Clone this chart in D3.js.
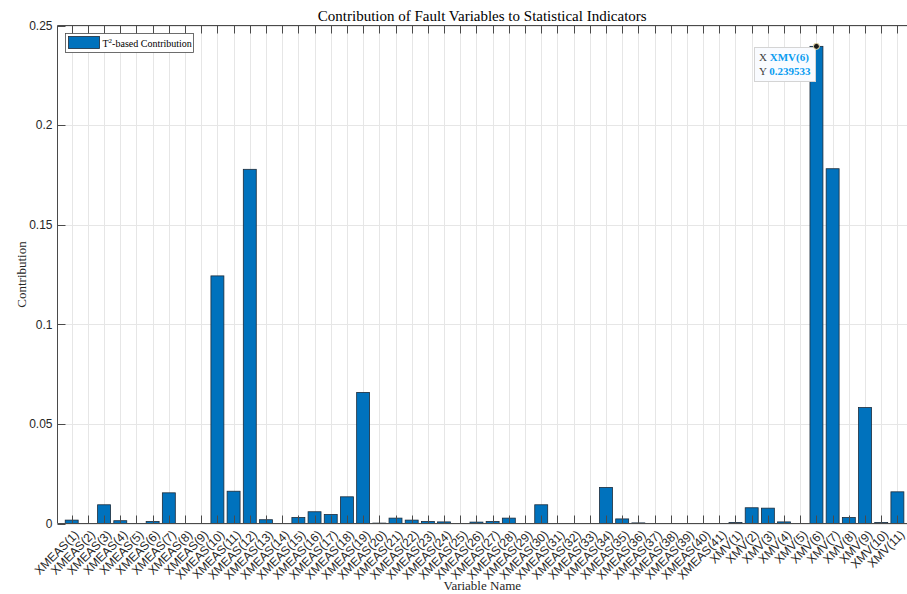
<!DOCTYPE html>
<html>
<head>
<meta charset="utf-8">
<script src="https://cdn.jsdelivr.net/npm/d3@7/dist/d3.min.js"></script>
<style>
  html, body { margin: 0; padding: 0; background: #fff; }
  svg { display: block; }
</style>
</head>
<body>
<svg id="chart" width="907" height="594"></svg>
<script>
// Variable names: 41 measured variables followed by 11 manipulated variables
const measNames = d3.range(1, 42).map(i => `XMEAS(${i})`);
const mvNames = d3.range(1, 12).map(i => `XMV(${i})`);
const categories = measNames.concat(mvNames);

// T²-based contribution of each variable
const measValues = [
  0.0017, 0, 0.0094, 0.0014, 0, 0.0010, 0.0154, 0, 0, 0.1243,
  0.0162, 0.1778, 0.0019, 0, 0.0030, 0.0059, 0.0045, 0.0134, 0.0658, 0.0002,
  0.0027, 0.0017, 0.0010, 0.0008, 0, 0.0007, 0.0010, 0.0027, 0, 0.0094,
  0, 0, 0, 0.0181, 0.0023, 0.0003, 0, 0, 0, 0,
  0
];
const mvValues = [0.0005, 0.0079, 0.0077, 0.0008, 0, 0.239533, 0.1781, 0.0030, 0.0582, 0.0005, 0.0159];
const values = measValues.concat(mvValues);

const yTicks = [0, 0.05, 0.1, 0.15, 0.2, 0.25];
const yTickLabels = ["0", "0.05", "0.1", "0.15", "0.2", "0.25"];

const titleText = "Contribution of Fault Variables to Statistical Indicators";
const xLabelText = "Variable Name";
const yLabelText = "Contribution";
const tipIndex = 46; // XMV(6)

const data = categories.map((c, i) => ({ name: c, value: values[i] }));

const svg = d3.select("#chart");
const m = { left: 57.5, top: 25.5, right: 911.6, bottom: 523.5 };

const serif = "'Liberation Serif', 'Times New Roman', serif";
const sans = "'Liberation Sans', Arial, Helvetica, sans-serif";

const x = d3.scalePoint().domain(categories).range([m.left, m.right]).padding(0.877);
const step = x.step();
const barW = step * 0.8;
const y = d3.scaleLinear().domain([0, 0.25]).range([m.bottom, m.top]);

const plot = svg.append("g");

// grid lines
plot.append("g").selectAll("line.vg").data(categories).join("line")
  .attr("x1", d => Math.round(x(d)) + 0.5).attr("x2", d => Math.round(x(d)) + 0.5)
  .attr("y1", m.top).attr("y2", m.bottom)
  .attr("stroke", "#e6e6e6").attr("stroke-width", 1);
plot.append("g").selectAll("line.hg").data(yTicks).join("line")
  .attr("x1", m.left).attr("x2", m.right)
  .attr("y1", d => Math.round(y(d)) + 0.5).attr("y2", d => Math.round(y(d)) + 0.5)
  .attr("stroke", "#e6e6e6").attr("stroke-width", 1);

// bars
plot.append("g").selectAll("rect").data(data).join("rect")
  .attr("x", d => x(d.name) - barW / 2)
  .attr("width", barW)
  .attr("y", d => y(d.value))
  .attr("height", d => y(0) - y(d.value))
  .attr("fill", "#0072BD")
  .attr("stroke", "#1c2b3a")
  .attr("stroke-width", 0.8);

// axes frame
const axisColor = "#4a4a4a";
const frame = svg.append("g").attr("stroke", axisColor).attr("stroke-width", 1);
frame.append("line").attr("x1", m.left).attr("x2", m.right).attr("y1", m.bottom).attr("y2", m.bottom);
frame.append("line").attr("x1", m.left).attr("x2", m.right).attr("y1", m.top).attr("y2", m.top);
frame.append("line").attr("x1", m.left).attr("x2", m.left).attr("y1", m.top).attr("y2", m.bottom);

// x ticks (inside, top and bottom)
const tickLen = 8;
frame.selectAll("line.xb").data(categories).join("line")
  .attr("x1", d => Math.round(x(d)) + 0.5).attr("x2", d => Math.round(x(d)) + 0.5)
  .attr("y1", m.bottom).attr("y2", m.bottom - tickLen);
frame.selectAll("line.xt").data(categories).join("line")
  .attr("x1", d => Math.round(x(d)) + 0.5).attr("x2", d => Math.round(x(d)) + 0.5)
  .attr("y1", m.top).attr("y2", m.top + tickLen);
// y ticks (inside)
frame.selectAll("line.yl").data(yTicks).join("line")
  .attr("x1", m.left).attr("x2", m.left + tickLen)
  .attr("y1", d => Math.round(y(d)) + 0.5).attr("y2", d => Math.round(y(d)) + 0.5);

// y tick labels
svg.append("g").selectAll("text").data(yTicks).join("text")
  .attr("x", m.left - 5).attr("y", d => y(d))
  .attr("dy", "0.35em")
  .attr("text-anchor", "end")
  .attr("font-family", sans).attr("font-size", 12).attr("fill", "#262626")
  .text((d, i) => yTickLabels[i]);

// x tick labels, rotated 45°
svg.append("g").selectAll("text").data(categories).join("text")
  .attr("transform", d => `translate(${x(d) + 2},${m.bottom + 6}) rotate(-45)`)
  .attr("text-anchor", "end")
  .attr("dy", "0.7em")
  .attr("font-family", sans).attr("font-size", 12).attr("fill", "#262626")
  .text(d => d);

// title and axis labels
svg.append("text").attr("x", (m.left + 907) / 2).attr("y", 21)
  .attr("text-anchor", "middle").attr("font-family", serif).attr("font-size", 15).attr("fill", "#000")
  .text(titleText);
svg.append("text").attr("x", (m.left + 907) / 2).attr("y", 590)
  .attr("text-anchor", "middle").attr("font-family", serif).attr("font-size", 13).attr("fill", "#262626")
  .text(xLabelText);
svg.append("text").attr("transform", `translate(26,${(m.top + m.bottom) / 2}) rotate(-90)`)
  .attr("text-anchor", "middle").attr("font-family", serif).attr("font-size", 13).attr("fill", "#262626")
  .text(yLabelText);

// legend
const lg = svg.append("g").attr("transform", "translate(65.5,33.5)");
lg.append("rect").attr("width", 128).attr("height", 19).attr("fill", "#fff").attr("stroke", "#4a4a4a").attr("stroke-width", 0.8);
lg.append("rect").attr("x", 3).attr("y", 3).attr("width", 31).attr("height", 12)
  .attr("fill", "#0072BD").attr("stroke", "#1c2b3a").attr("stroke-width", 0.8);
const lt = lg.append("text").attr("x", 37).attr("y", 13.5)
  .attr("font-family", serif).attr("font-size", 10).attr("fill", "#000");
lt.append("tspan").text("T");
lt.append("tspan").attr("font-size", 7).attr("dy", -4).text("2");
lt.append("tspan").attr("dy", 4).text("-based Contribution");

// data tip on the largest bar
const tipD = data[tipIndex];
const tx = x(tipD.name), ty = y(tipD.value);
const tip = svg.append("g");
tip.append("rect").attr("x", 754.5).attr("y", 47.5).attr("width", 61).attr("height", 34)
  .attr("fill", "#f9fbff").attr("stroke", "#d4d4d4").attr("stroke-width", 1);
const t1 = tip.append("text").attr("x", 759).attr("y", 61).attr("font-family", serif).attr("font-size", 11);
t1.append("tspan").attr("fill", "#404040").text("X ");
t1.append("tspan").attr("fill", "#0a9cf0").attr("font-weight", "bold").text(tipD.name);
const t2 = tip.append("text").attr("x", 759).attr("y", 75).attr("font-family", serif).attr("font-size", 11);
t2.append("tspan").attr("fill", "#404040").text("Y ");
t2.append("tspan").attr("fill", "#0a9cf0").attr("font-weight", "bold").text(String(tipD.value));
tip.append("circle").attr("cx", tx).attr("cy", ty).attr("r", 3)
  .attr("fill", "#1a1a1a").attr("stroke", "#f4e6b0").attr("stroke-width", 1);
</script>
</body>
</html>
